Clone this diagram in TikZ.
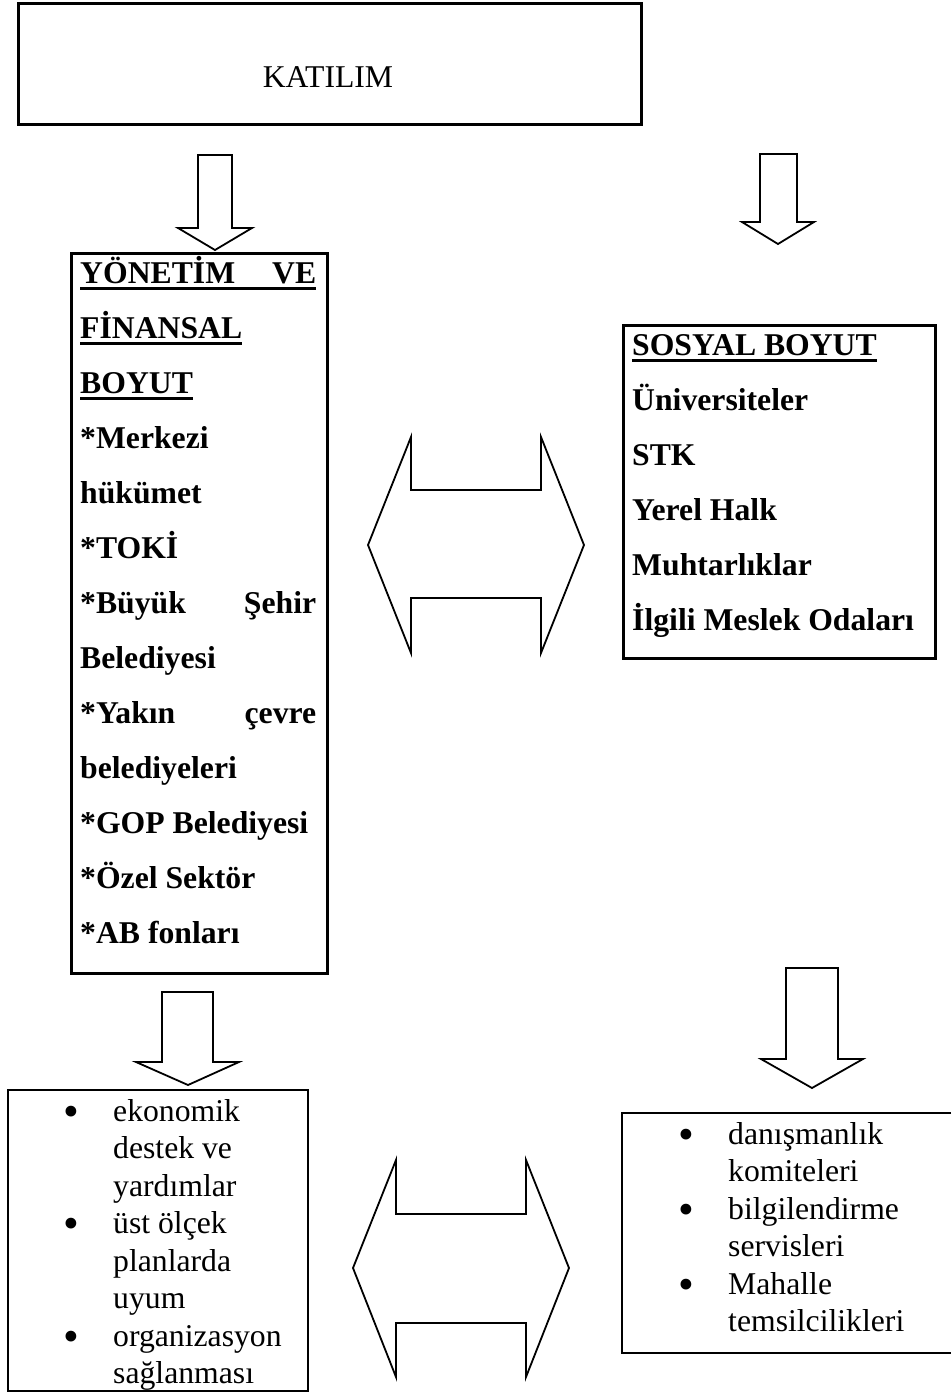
\documentclass[tikz,border=0pt]{standalone}
\usepackage{fontspec}
\setmainfont{Liberation Serif}
\newcommand\fs{\fontsize{31.7}{37.5}\selectfont}
\newcommand\myul[1]{\leavevmode\setbox0\hbox{#1}\rlap{\rule[-6.5pt]{\wd0}{3pt}}\box0}
\newcommand\bul{\leavevmode\llap{\raisebox{-5pt}{\fontsize{45}{45}\selectfont\textbullet}\hspace{34pt}}}
\newcommand\stx{\char`\*}
\tikzset{
  box/.style={draw, line width=2.5pt, inner sep=0pt, anchor=north west},
  blockarrow/.style={draw, line width=1.8pt, line join=miter, fill=white},
  txt/.style={inner sep=0pt, anchor=base west, font=\fs},
}
\begin{document}
\begin{tikzpicture}[x=1pt,y=-1pt]
\useasboundingbox (0,0) rectangle (951,1393);
% boxes
\node[box, minimum width=623pt, minimum height=121pt] (kat) at (17,2) {};
\node[inner sep=0pt, anchor=base, font=\fs] (katt) at (328,87) {KATILIM};
\node[box, minimum width=256pt, minimum height=720pt] (yon) at (70,252) {};
\node[txt] (yont) at (80,283) {\parbox[t]{236pt}{\fs\bfseries\baselineskip=55pt
\myul{\makebox[236pt][s]{YÖNETİM VE}}\\
\myul{FİNANSAL}\\
\myul{BOYUT}\\
\stx Merkezi\\
hükümet\\
\stx TOKİ\\
\makebox[236pt][s]{\stx Büyük Şehir}\\
Belediyesi\\
\makebox[236pt][s]{\stx Yakın çevre}\\
belediyeleri\\
\stx GOP Belediyesi\\
\stx Özel Sektör\\
\stx AB fonları}};
\node[box, minimum width=312pt, minimum height=333pt] (sos) at (622,324) {};
\node[txt] (sost) at (632,355) {\parbox[t]{300pt}{\fs\bfseries\baselineskip=55pt
\myul{SOSYAL BOYUT}\\
Üniversiteler\\
STK\\
Yerel Halk\\
Muhtarlıklar\\
İlgili Meslek Odaları}};
\node[box, line width=2.2pt, minimum width=300pt, minimum height=301pt] (eko) at (7,1089) {};
\node[txt] (ekot) at (113,1121) {\parbox[t]{190pt}{\fs\baselineskip=37.5pt
\bul ekonomik\\
destek ve\\
yardımlar\\
\bul üst ölçek\\
planlarda\\
uyum\\
\bul organizasyon\\
sağlanması}};
\draw[line width=2.5pt] (951,1113) -- (622,1113) -- (622,1353) -- (951,1353);
\node[txt] (dant) at (728,1144) {\parbox[t]{220pt}{\fs\baselineskip=37.5pt
\bul danışmanlık\\
komiteleri\\
\bul bilgilendirme\\
servisleri\\
\bul Mahalle\\
temsilcilikleri}};
% down arrows
\draw[blockarrow] (198,155) -- (232,155) -- (232,228) -- (252,228) -- (215,250) -- (178,228) -- (198,228) -- cycle;
\draw[blockarrow] (760,154) -- (797,154) -- (797,222) -- (814,222) -- (778,244) -- (742,222) -- (760,222) -- cycle;
\draw[blockarrow] (162,992) -- (213,992) -- (213,1062) -- (239,1062) -- (188,1085) -- (136,1062) -- (162,1062) -- cycle;
\draw[blockarrow] (786,968) -- (838,968) -- (838,1059) -- (863,1059) -- (812,1088) -- (761,1059) -- (786,1059) -- cycle;
% double arrows
\draw[blockarrow] (411,437) -- (411,490) -- (541,490) -- (541,437) -- (584,545) -- (541,653) -- (541,598) -- (411,598) -- (411,653) -- (368,545) -- cycle;
\draw[blockarrow] (396,1160) -- (396,1214) -- (526,1214) -- (526,1160) -- (569,1268) -- (526,1377) -- (526,1323) -- (396,1323) -- (396,1377) -- (353,1268) -- cycle;
\end{tikzpicture}
\end{document}
